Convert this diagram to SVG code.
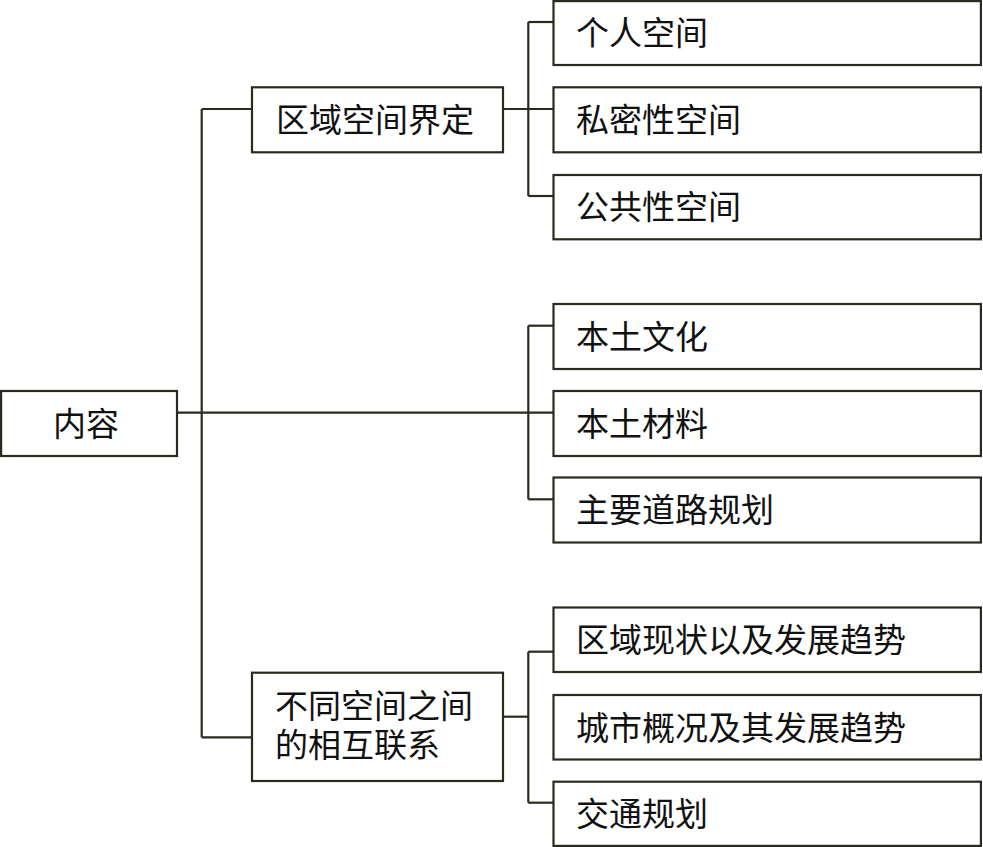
<svg xmlns="http://www.w3.org/2000/svg" width="983" height="847" viewBox="0 0 983 847">
<style>
.box{fill:#ffffff;stroke:#2a2a1e;stroke-width:2.2}
.ln{fill:none;stroke:#2a2a1e;stroke-width:2.2}
text{font-family:"Noto Sans CJK SC","Noto Sans",sans-serif;font-size:33px;fill:#111111}
</style>
<rect width="983" height="847" fill="#ffffff"/>
<g id="connectors">
<path class="ln" d="M177,412.7 H553.5"/>
<path class="ln" d="M201.7,109 V737.3"/>
<path class="ln" d="M201.7,109 H252"/>
<path class="ln" d="M201.7,737.3 H252"/>
<path class="ln" d="M503,109 H553.5"/>
<path class="ln" d="M528.3,22 V196"/>
<path class="ln" d="M528.3,22 H553.5"/>
<path class="ln" d="M528.3,196 H553.5"/>
<path class="ln" d="M528.3,325.7 V499.3"/>
<path class="ln" d="M528.3,325.7 H553.5"/>
<path class="ln" d="M528.3,499.3 H553.5"/>
<path class="ln" d="M503,716.7 H528.3"/>
<path class="ln" d="M528.3,651.7 V802.7"/>
<path class="ln" d="M528.3,651.7 H553.5"/>
<path class="ln" d="M528.3,802.7 H553.5"/>
</g>
<g id="n-neirong"><rect class="box" x="1.1" y="391" width="175.9" height="65"/><text x="53" y="436">内容</text></g>
<g id="n-quyu"><rect class="box" x="252" y="87.3" width="251" height="65"/><text x="276" y="132">区域空间界定</text></g>
<g id="n-butong"><rect class="box" x="252" y="672.7" width="251" height="108.3"/><text x="275" y="718">不同空间之间</text><text x="275" y="757">的相互联系</text></g>
<g id="n-geren"><rect class="box" x="553.5" y="1.1" width="427.4" height="63.9"/><text x="576" y="45">个人空间</text></g>
<g id="n-simi"><rect class="box" x="553.5" y="87.3" width="427.4" height="65"/><text x="576" y="132">私密性空间</text></g>
<g id="n-gonggong"><rect class="box" x="553.5" y="175" width="427.4" height="64.3"/><text x="576" y="219">公共性空间</text></g>
<g id="n-wenhua"><rect class="box" x="553.5" y="304" width="427.4" height="65"/><text x="576" y="349">本土文化</text></g>
<g id="n-cailiao"><rect class="box" x="553.5" y="391" width="427.4" height="65"/><text x="576" y="436">本土材料</text></g>
<g id="n-daolu"><rect class="box" x="553.5" y="477.5" width="427.4" height="65"/><text x="576" y="522">主要道路规划</text></g>
<g id="n-xianzhuang"><rect class="box" x="553.5" y="607.5" width="427.4" height="64.5"/><text x="576" y="652">区域现状以及发展趋势</text></g>
<g id="n-chengshi"><rect class="box" x="553.5" y="695" width="427.4" height="64.5"/><text x="576" y="740">城市概况及其发展趋势</text></g>
<g id="n-jiaotong"><rect class="box" x="553.5" y="781.7" width="427.4" height="64.2"/><text x="576" y="826">交通规划</text></g>
</svg>
